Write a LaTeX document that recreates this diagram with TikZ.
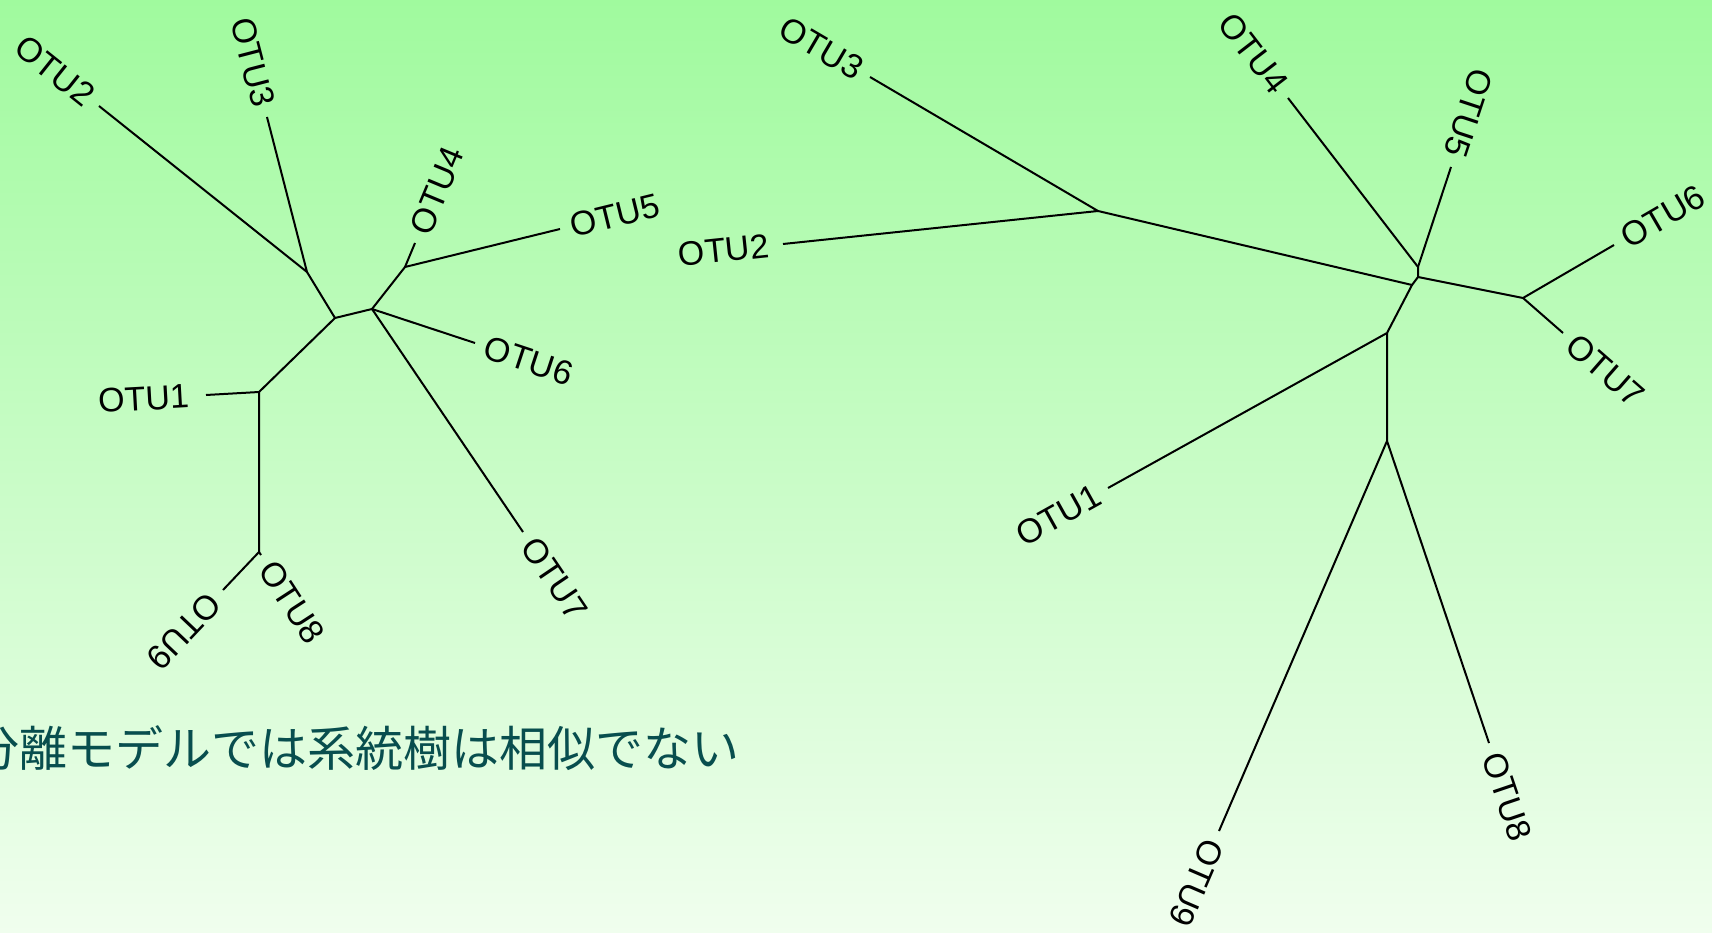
\documentclass[tikz,border=0pt]{standalone}
\usepackage{fontspec}
\setmainfont{Liberation Sans}
\newfontfamily\cjk{Noto Sans CJK JP}
\usetikzlibrary{calc}
\definecolor{bgtop}{RGB}{160,250,158}
\definecolor{bgbot}{RGB}{240,254,238}
\definecolor{captc}{RGB}{8,78,78}
\begin{document}
\begin{tikzpicture}[x=1pt,y=-1pt,
  br/.style={line width=2pt,line join=round},
  lbl/.style={inner sep=0pt,font=\fontsize{34}{40}\selectfont},
  lw/.style={lbl,anchor=west,rotate=#1},
  le/.style={lbl,anchor=east,rotate=#1}]
\useasboundingbox (0,0) rectangle (1712,933);
\fill[top color=bgtop,bottom color=bgbot] (0,0) rectangle (1712,933);
% ---------- left tree ----------
\coordinate (A) at (307,272);
\coordinate (B) at (335,318);
\coordinate (C) at (372,309);
\coordinate (D) at (405,267);
\coordinate (E) at (259,392);
\coordinate (F) at (259,552);
\coordinate (L1) at (206,395);
\coordinate (L2) at (99,106);
\coordinate (L3) at (267,117);
\coordinate (L4) at (415,243);
\coordinate (L5) at (560,229);
\coordinate (L6) at (475,343);
\coordinate (L7) at (523,532);
\coordinate (L8) at (261,555);
\coordinate (L9) at (223,590);
\draw[br] (L2) -- (A) -- (L3);
\draw[br] (A) -- (B) -- (C);
\draw[br] (C) -- (D) -- (L4);
\draw[br] (D) -- (L5);
\draw[br] (C) -- (L6);
\draw[br] (C) -- (L7);
\draw[br] (B) -- (E) -- (L1);
\draw[br] (E) -- (F) -- (L9);
\draw[br] (F) -- (L8);
\node[le=-38.6] (t2) at ([shift={(141.4:11pt)}]L2) {OTU2};
\node[le=-75.5] (t3) at ([shift={(104.5:11pt)}]L3) {OTU3};
\node[lw=67.4] (t4) at ([shift={(67.4:11pt)}]L4) {OTU4};
\node[lw=13.8] (t5) at ([shift={(13.8:11pt)}]L5) {OTU5};
\node[lw=-18.3] (t6) at ([shift={(-18.3:11pt)}]L6) {OTU6};
\node[lw=-55.9] (t7) at ([shift={(-55.9:11pt)}]L7) {OTU7};
\node[le=3.2] (t1) at ([shift={(183.2:17pt)}]L1) {OTU1};
\node[lw=-133.5] (t9) at ([shift={(-133.5:11pt)}]L9) {OTU9};
\node[lw=-57] (t8) at ([shift={(-57:11pt)}]L8) {OTU8};
% ---------- right tree ----------
\coordinate (P) at (1098,211);
\coordinate (Q) at (1412,285);
\coordinate (R2) at (1418,277);
\coordinate (R) at (1418,267);
\coordinate (S) at (1523,298);
\coordinate (T) at (1387,333);
\coordinate (U) at (1387,441);
\coordinate (M1) at (1108,488);
\coordinate (M2) at (783,244);
\coordinate (M3) at (870,77);
\coordinate (M4) at (1288,98);
\coordinate (M5) at (1451,167);
\coordinate (M6) at (1614,245);
\coordinate (M7) at (1563,333);
\coordinate (M8) at (1489,743);
\coordinate (M9) at (1219,831);
\draw[br] (M3) -- (P) -- (M2);
\draw[br] (P) -- (Q) -- (R2) -- (R) -- (M4);
\draw[br] (R) -- (M5);
\draw[br] (R2) -- (S) -- (M6);
\draw[br] (S) -- (M7);
\draw[br] (Q) -- (T) -- (M1);
\draw[br] (T) -- (U) -- (M9);
\draw[br] (U) -- (M8);
\node[le=-30.4] (s3) at ([shift={(149.6:11pt)}]M3) {OTU3};
\node[le=6] (s2) at ([shift={(186:14pt)}]M2) {OTU2};
\node[le=-52.4] (s4) at ([shift={(127.6:11pt)}]M4) {OTU4};
\node[le=-108.3] (s5) at ([shift={(71.7:11pt)}]M5) {OTU5};
\node[lw=30.2] (s6) at ([shift={(30.2:11pt)}]M6) {OTU6};
\node[lw=-41.2] (s7) at ([shift={(-41.2:11pt)}]M7) {OTU7};
\node[le=29.1] (s1) at ([shift={(209.1:11pt)}]M1) {OTU1};
\node[lw=-113.3] (s9) at ([shift={(-113.3:11pt)}]M9) {OTU9};
\node[lw=-71.3] (s8) at ([shift={(-71.3:11pt)}]M8) {OTU8};
% ---------- caption ----------
\node[anchor=east,inner sep=0pt,text=captc,font=\cjk\fontsize{48}{56}\selectfont] (cap) at (740,748) {分離モデルでは系統樹は相似でない};
\end{tikzpicture}
\end{document}
